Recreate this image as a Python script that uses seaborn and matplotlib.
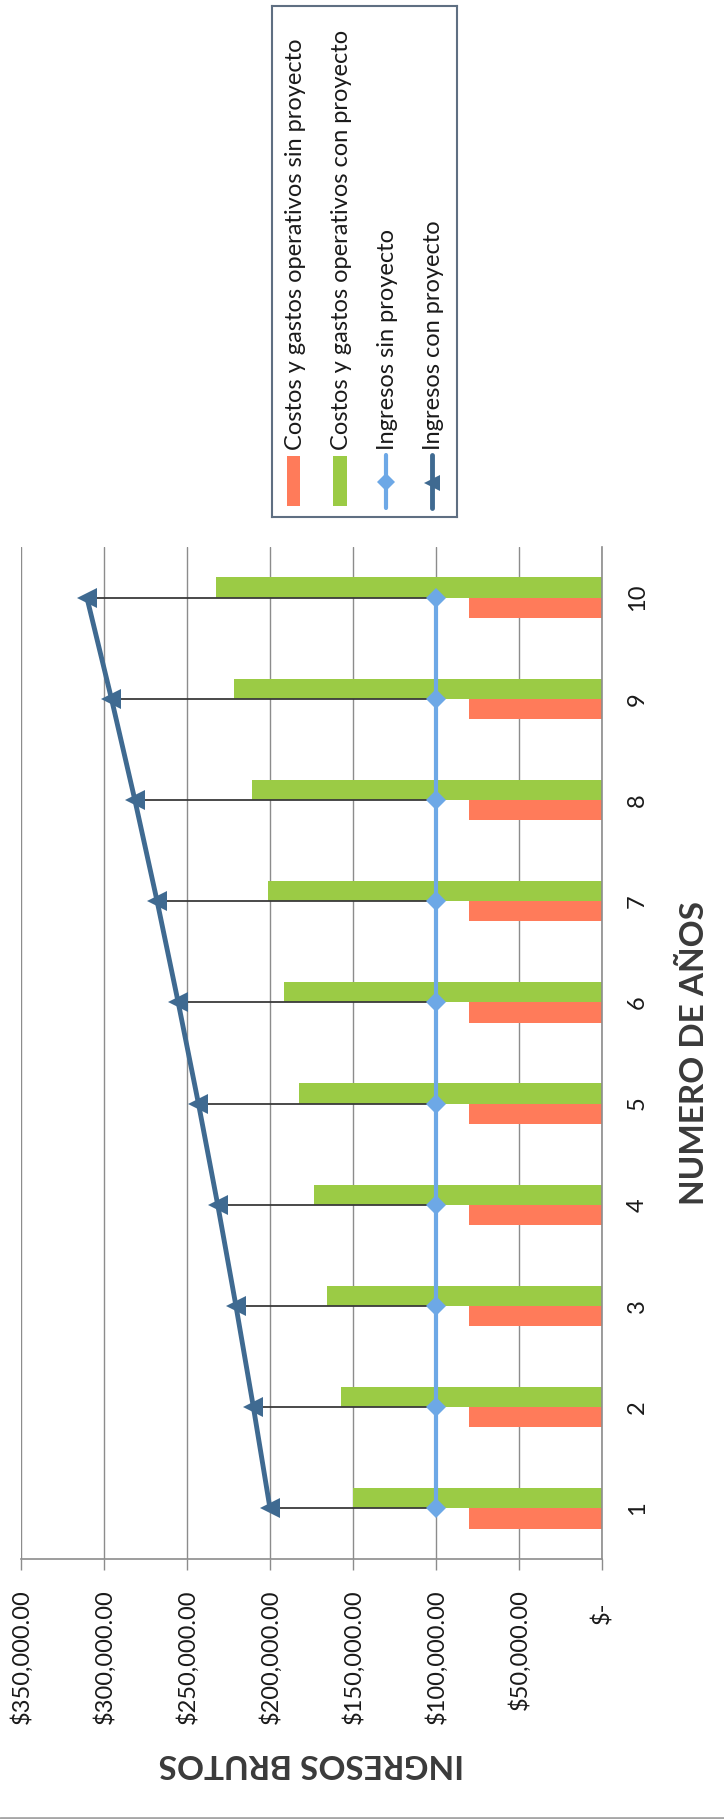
import matplotlib
matplotlib.use("Agg")
import matplotlib.pyplot as plt
from matplotlib.patches import Rectangle
from matplotlib.lines import Line2D
from matplotlib.ticker import FixedLocator, FuncFormatter
from matplotlib.transforms import ScaledTranslation
import pandas as pd
import seaborn as sns

# --- data -------------------------------------------------------------
anios = [1, 2, 3, 4, 5, 6, 7, 8, 9, 10]
costos_sin_proyecto = [80000, 80000, 80000, 80000, 80000,
                       80000, 80000, 80000, 80000, 80000]
costos_con_proyecto = [150000, 157500, 165400, 173600, 182300,
                       191400, 201000, 211100, 221600, 232700]
ingresos_sin_proyecto = [100000, 100000, 100000, 100000, 100000,
                         100000, 100000, 100000, 100000, 100000]
ingresos_con_proyecto = [200000, 210000, 220500, 231500, 243100,
                         255300, 268000, 281400, 295500, 310300]
ticks_valor = [0, 50000, 100000, 150000, 200000, 250000, 300000, 350000]

series = ["Costos y gastos operativos sin proyecto",
          "Costos y gastos operativos con proyecto",
          "Ingresos sin proyecto",
          "Ingresos con proyecto"]
titulo_valor = "INGRESOS BRUTOS"
titulo_anios = "NUMERO DE AÑOS"

# --- style ------------------------------------------------------------
sns.set_style("white")
plt.rcParams["font.family"] = ["Lato", "DejaVu Sans"]

ROJO = "#FF7B5A"
VERDE = "#9BCB45"
CELESTE = "#6DA8E6"
AZUL = "#3F6A91"
GRIS = "#8C8C8C"
TEXTO = "#1a1a1a"
TITULO = "#3a3a3a"

W, H = 724, 1819
fig = plt.figure(figsize=(W / 100, H / 100), dpi=100)
fig.patch.set_facecolor("white")

# chart area (value axis runs right-to-left, years bottom-to-top)
ax = fig.add_axes([21 / W, 1 - 1559 / H, (602 - 21) / W, (1559 - 547) / H])

barras = pd.DataFrame({
    "anio": anios + anios,
    "valor": costos_sin_proyecto + costos_con_proyecto,
    "serie": [series[0]] * len(anios) + [series[1]] * len(anios),
})
sns.barplot(data=barras, x="valor", y="anio", hue="serie",
            hue_order=[series[0], series[1]], palette=[ROJO, VERDE],
            orient="y", native_scale=True, width=0.4, gap=0, dodge=True,
            errorbar=None, saturation=1, legend=False, linewidth=0,
            zorder=2, ax=ax)

# high-low connectors between the two income series
ax.hlines(anios, ingresos_sin_proyecto, ingresos_con_proyecto,
          colors="#3a3a3a", lw=1.3, zorder=3)

sns.lineplot(x=ingresos_sin_proyecto, y=anios, orient="y", color=CELESTE,
             lw=3, marker="D", markersize=10, markeredgewidth=0,
             zorder=4, ax=ax)
sns.lineplot(x=ingresos_con_proyecto, y=anios, orient="y", color=AZUL,
             lw=3.5, marker="<", markersize=14, markeredgewidth=0,
             zorder=5, ax=ax)

ax.set_xlim(350000, 0)
ax.set_ylim(0.5, 10.5)

# value axis (bottom)
ax.xaxis.set_major_locator(FixedLocator(ticks_valor))
ax.xaxis.set_major_formatter(
    FuncFormatter(lambda v, _: "$-" if v == 0 else f"${v:,.2f}"))
ax.grid(axis="x", color=GRIS, lw=1.0)
ax.grid(axis="y", visible=False)
ax.set_axisbelow(True)
ax.tick_params(axis="x", bottom=True, length=8, width=1, color=GRIS,
               pad=14, labelsize=17, labelcolor=TEXTO, labelrotation=90)

# year axis (right)
ax.yaxis.tick_right()
ax.set_yticks(anios)
ax.set_yticklabels([str(a) for a in anios], rotation=90,
                   ha="left", va="center")
ax.tick_params(axis="y", right=True, left=False, length=0, pad=18,
               labelsize=17, labelcolor=TEXTO)

for lado in ("top", "left"):
    ax.spines[lado].set_visible(False)
for lado in ("bottom", "right"):
    ax.spines[lado].set_color(GRIS)
    ax.spines[lado].set_linewidth(1.2)

ax.set_xlabel(titulo_valor, rotation=180, fontsize=24, fontweight="bold",
              color=TITULO, labelpad=18)
ax.yaxis.set_label_position("right")
ax.set_ylabel(titulo_anios, rotation=90, fontsize=24, fontweight="bold",
              color=TITULO, labelpad=22)

# the zero label of the accounting format sits a little further out
fig.canvas.draw()
for etiqueta in ax.xaxis.get_ticklabels():
    if etiqueta.get_text() == "$-":
        etiqueta.set_transform(etiqueta.get_transform() +
                               ScaledTranslation(0, -0.12, fig.dpi_scale_trans))

# --- legend box (entries rotated with the chart) ----------------------
lax = fig.add_axes([272 / W, 1 - 517 / H, (457 - 272) / W, (517 - 6) / H])
lax.set_xlim(272, 457)
lax.set_ylim(517, 6)
lax.set_xticks([])
lax.set_yticks([])
for sp in lax.spines.values():
    sp.set_color("#5f6f82")
    sp.set_linewidth(1.5)

lax.add_patch(Rectangle((287, 456), 13, 50, color=ROJO, lw=0))
lax.add_patch(Rectangle((333, 456), 14, 50, color=VERDE, lw=0))
lax.plot([386, 386], [455, 508], color=CELESTE, lw=3)
lax.plot([386], [482], marker="D", color=CELESTE, markersize=9,
         markeredgewidth=0)
lax.plot([432, 432], [455, 508], color=AZUL, lw=3.5)
lax.plot([432], [483], marker="<", color=AZUL, markersize=12,
         markeredgewidth=0)

for xc, texto in zip([295, 341, 387, 433], series):
    lax.text(xc, 450, texto, rotation=90, ha="center", va="bottom",
             fontsize=17, color=TEXTO)

# outer border line at the bottom of the chart area
fig.add_artist(Line2D([0, 1], [1.5 / H, 1.5 / H], transform=fig.transFigure,
                      color="#a6a6a6", lw=2))

fig.savefig("out.png", dpi=100)
